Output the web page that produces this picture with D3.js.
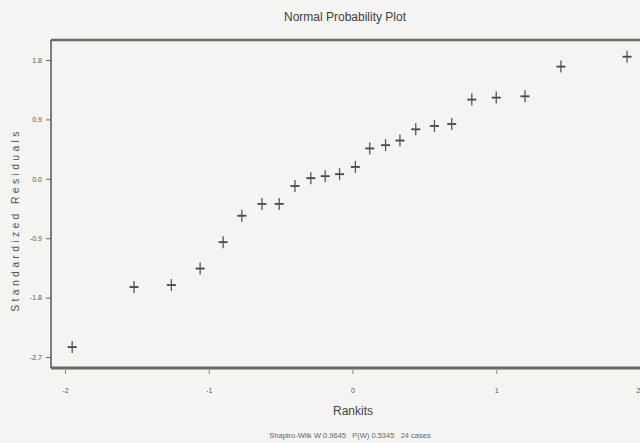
<html>

<head>
    <style>
        body { margin: 0; background: #f4f4f2; }
        svg { display: block; font-family: "Liberation Sans", Arial, sans-serif; }
    </style>
</head>

<body>
    <svg id="chart"></svg>
</body>
<script src="https://cdnjs.cloudflare.com/ajax/libs/d3/7.8.5/d3.min.js"></script>
<script>
    // rankits (normal scores) and standardized residuals, 24 cases
    const rankits = [-1.95, -1.52, -1.26, -1.06, -0.90, -0.77, -0.63, -0.51, -0.40, -0.29, -0.19, -0.09,
        0.02, 0.12, 0.23, 0.33, 0.44, 0.57, 0.69, 0.83, 1.00, 1.20, 1.45, 1.91];
    const residuals = [-2.55, -1.64, -1.61, -1.36, -0.96, -0.56, -0.38, -0.38, -0.11, 0.01, 0.04, 0.07,
        0.18, 0.46, 0.51, 0.58, 0.75, 0.80, 0.83, 1.20, 1.23, 1.25, 1.70, 1.85];
    const xTicks = [-2, -1, 0, 1, 2];
    const yTicks = [1.8, 0.9, 0.0, -0.9, -1.8, -2.7];
    const footer = "Shapiro-Wilk W 0.9645   P(W) 0.5345   24 cases";

    const width = 640,
        height = 443;
    const box = { left: 51, top: 40, right: 648, bottom: 368 };

    const svg = d3.select('#chart')
        .attr('width', width)
        .attr('height', height);

    const x = d3.scaleLinear().domain([-2, 2]).range([65, 640]);
    const y = d3.scaleLinear().domain([-2.7, 1.8]).range([357, 60]);

    // title
    svg.append('text')
        .attr('x', 345).attr('y', 21)
        .attr('text-anchor', 'middle')
        .attr('font-size', 12)
        .attr('fill', '#3e3e3e')
        .text('Normal Probability Plot');

    // plot frame: thick top/bottom, thin left
    const frameColor = '#6e6862';
    svg.append('line')
        .attr('x1', box.left).attr('x2', box.right)
        .attr('y1', box.top).attr('y2', box.top)
        .attr('stroke', frameColor).attr('stroke-width', 2.5);
    svg.append('line')
        .attr('x1', box.left).attr('x2', box.right)
        .attr('y1', box.bottom).attr('y2', box.bottom)
        .attr('stroke', frameColor).attr('stroke-width', 3);
    svg.append('line')
        .attr('x1', box.left).attr('x2', box.left)
        .attr('y1', box.top).attr('y2', box.bottom)
        .attr('stroke', '#555').attr('stroke-width', 1.5);

    // y axis
    const yAxis = svg.append('g')
        .attr('transform', `translate(${box.left},0)`)
        .call(d3.axisLeft(y).tickValues(yTicks).tickSize(5).tickPadding(4)
            .tickFormat(d => d.toFixed(1)));
    yAxis.select('.domain').remove();
    yAxis.selectAll('line').attr('stroke', '#666');
    yAxis.selectAll('text').attr('font-size', 7).attr('fill', '#555')
        .attr('font-family', '"Liberation Sans", Arial, sans-serif');

    // x axis
    const xAxis = svg.append('g')
        .attr('transform', `translate(0,${box.bottom})`)
        .call(d3.axisBottom(x).tickValues(xTicks).tickSize(6).tickPadding(14)
            .tickFormat(d => String(d)));
    xAxis.select('.domain').remove();
    xAxis.selectAll('line').attr('stroke', '#888');
    xAxis.selectAll('text').attr('font-size', 7).attr('fill', '#555')
        .attr('font-family', '"Liberation Sans", Arial, sans-serif')
        .filter(d => x(d) >= width - 2)
        .attr('text-anchor', 'end');

    // axis titles
    svg.append('text')
        .attr('transform', 'translate(19,220) rotate(-90)')
        .attr('text-anchor', 'middle')
        .attr('font-size', 10.5)
        .attr('letter-spacing', 3.3)
        .attr('fill', '#555')
        .text('Standardized Residuals');

    svg.append('text')
        .attr('x', 353).attr('y', 415)
        .attr('text-anchor', 'middle')
        .attr('font-size', 12)
        .attr('fill', '#444')
        .text('Rankits');

    svg.append('text')
        .attr('x', 350).attr('y', 438)
        .attr('text-anchor', 'middle')
        .attr('font-size', 7.5)
        .attr('fill', '#666')
        .style('white-space', 'pre')
        .text(footer);

    // plus markers
    const pts = rankits.map((r, i) => ({ r: r, e: residuals[i] }));
    const marks = svg.append('g')
        .selectAll('g')
        .data(pts)
        .enter().append('g')
        .attr('transform', d => `translate(${x(d.r)},${y(d.e)})`);
    marks.append('line')
        .attr('x1', -4.5).attr('x2', 4.5).attr('y1', 0).attr('y2', 0)
        .attr('stroke', '#444').attr('stroke-width', 1.8);
    marks.append('line')
        .attr('x1', 0).attr('x2', 0).attr('y1', -6).attr('y2', 6)
        .attr('stroke', '#555').attr('stroke-width', 1.3);
</script>

</html>
